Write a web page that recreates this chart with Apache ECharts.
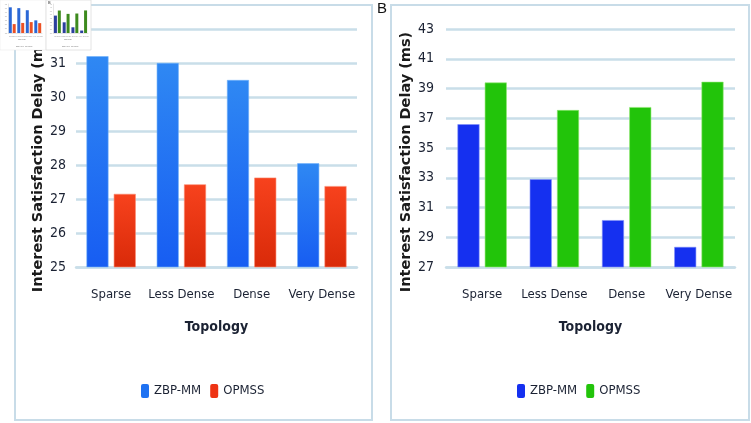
<!DOCTYPE html>
<html>
<head>
<meta charset="utf-8">
<script src="https://cdn.jsdelivr.net/npm/echarts@6/dist/echarts.min.js"></script>
<style>
  html, body { margin: 0; padding: 0; background: #fff; }
  #main { width: 751px; height: 423px; }
</style>
</head>
<body>
<div id="main"></div>
<script>
// topology categories, shared by both panels
const categories = ['Sparse', 'Less Dense', 'Dense', 'Very Dense'];

// panel A values (ms)
const zbpA = [31.2, 31.0, 30.5, 28.05];
const opmssA = [27.15, 27.43, 27.63, 27.38];

// panel B values (ms)
const zbpB = [36.6, 32.9, 30.15, 28.35];
const opmssB = [39.4, 37.55, 37.75, 39.45];

// y axis ranges
const axisA = { min: 25, max: 32, interval: 1 };
const axisB = { min: 27, max: 43, interval: 2 };

const chart = echarts.init(document.getElementById('main'), null, { renderer: 'canvas' });

const labelFont = "'DejaVu Sans Condensed', 'Liberation Sans Narrow', sans-serif";
const textColor = '#1b2233';
const gridColor = '#c9dee9';

function grad(top, bottom) {
  return new echarts.graphic.LinearGradient(0, 0, 0, 1, [
    { offset: 0, color: top },
    { offset: 1, color: bottom }
  ]);
}

// main axes builder
function xAxisMain(gridIndex) {
  return {
    type: 'category',
    gridIndex: gridIndex,
    data: categories,
    axisLine: { lineStyle: { color: gridColor, width: 2.5 } },
    axisTick: { show: false },
    axisLabel: { interval: 0, color: textColor, fontFamily: labelFont, fontSize: 13, margin: 21 },
    name: 'Topology',
    nameLocation: 'middle',
    nameGap: 53,
    nameTextStyle: { color: textColor, fontFamily: labelFont, fontSize: 14, fontWeight: 'bold' }
  };
}

function yAxisMain(gridIndex, range, gap, margin) {
  return {
    type: 'value',
    gridIndex: gridIndex,
    min: range.min,
    max: range.max,
    interval: range.interval,
    axisLine: { show: false },
    axisTick: { show: false },
    splitLine: { lineStyle: { color: gridColor, width: 2.5 } },
    axisLabel: { color: textColor, fontFamily: labelFont, fontSize: 14, margin: margin },
    name: 'Interest Satisfaction Delay (ms)',
    nameLocation: 'middle',
    nameGap: gap,
    nameTextStyle: {
      color: '#1a1a1a', fontFamily: 'DejaVu Sans', fontSize: 14.5, fontWeight: 'bold',
      padding: [0, 28, 0, 0]
    }
  };
}

// tiny thumbnail axes (inset in the corner)
function xAxisMini(gridIndex) {
  return {
    type: 'category', gridIndex: gridIndex, data: categories,
    axisLine: { lineStyle: { color: '#cccccc', width: 0.5 } },
    axisTick: { show: false },
    axisLabel: { interval: 0, fontSize: 2, color: '#999', margin: 2 },
    z: 20
  };
}
function yAxisMini(gridIndex, range) {
  return {
    type: 'value', gridIndex: gridIndex, min: range.min, max: range.max, interval: range.interval,
    axisLine: { show: true, lineStyle: { color: '#cccccc', width: 0.5 } },
    axisTick: { show: false },
    splitLine: { show: false },
    axisLabel: { fontSize: 2, color: '#aaa', margin: 1 },
    z: 20
  };
}

const option = {
  backgroundColor: '#ffffff',
  animation: false,
  graphic: [
    { type: 'rect', shape: { x: 15, y: 5, width: 357, height: 415 },
      style: { fill: 'none', stroke: '#c8dce8', lineWidth: 2 }, z: -1 },
    { type: 'rect', shape: { x: 391, y: 5, width: 358, height: 415 },
      style: { fill: 'none', stroke: '#c8dce8', lineWidth: 2 }, z: -1 },
    { type: 'text', left: 377, top: 1,
      style: { text: 'B', font: '15px "Liberation Sans", Arial, sans-serif', fill: '#111' } },
    // inset thumbnail background
    { type: 'rect', shape: { x: 0, y: 0, width: 46, height: 50 },
      style: { fill: '#ffffff', stroke: '#e6e6e6', lineWidth: 0.5 }, z: 10 },
    { type: 'rect', shape: { x: 46, y: 0, width: 45, height: 50 },
      style: { fill: '#ffffff', stroke: '#dddddd', lineWidth: 0.8 }, z: 10 },
    { type: 'text', left: 48, top: 1, z: 30,
      style: { text: 'B', font: '4px sans-serif', fill: '#333' } },
    { type: 'text', left: 18, top: 38, z: 30,
      style: { text: 'Topology', font: '2px sans-serif', fill: '#777' } },
    { type: 'text', left: 64, top: 38, z: 30,
      style: { text: 'Topology', font: '2px sans-serif', fill: '#777' } },
    { type: 'text', left: 16, top: 45, z: 30,
      style: { text: 'ZBP-MM  OPMSS', font: '2px sans-serif', fill: '#777' } },
    { type: 'text', left: 62, top: 45, z: 30,
      style: { text: 'ZBP-MM  OPMSS', font: '2px sans-serif', fill: '#777' } }
  ],
  grid: [
    { left: 76, right: 394, top: 29, bottom: 156 },
    { left: 446, right: 16, top: 29, bottom: 156 },
    { left: 8, top: 4, width: 34, height: 29, z: 20 },
    { left: 53, top: 4, width: 35, height: 29, z: 20 }
  ],
  legend: [
    {
      left: 136, top: 379, itemWidth: 8, itemHeight: 14, itemGap: 9,
      textStyle: { color: textColor, fontFamily: labelFont, fontSize: 13 },
      data: [
        { name: 'ZBP-MM', itemStyle: { color: '#1f72f2', borderWidth: 0 } },
        { name: 'OPMSS', itemStyle: { color: '#ee3314', borderWidth: 0 } }
      ]
    },
    {
      left: 512, top: 379, itemWidth: 8, itemHeight: 14, itemGap: 9,
      textStyle: { color: textColor, fontFamily: labelFont, fontSize: 13 },
      data: [
        { name: 'ZBP-MM', itemStyle: { color: '#1530f0', borderWidth: 0 } },
        { name: 'OPMSS', itemStyle: { color: '#22c40a', borderWidth: 0 } }
      ]
    }
  ],
  xAxis: [xAxisMain(0), xAxisMain(1), xAxisMini(2), xAxisMini(3)],
  yAxis: [yAxisMain(0, axisA, 26, 10), yAxisMain(1, axisB, 16, 12), yAxisMini(2, axisA), yAxisMini(3, axisB)],
  series: [
    {
      name: 'ZBP-MM', type: 'bar', xAxisIndex: 0, yAxisIndex: 0, data: zbpA,
      barWidth: 22, barGap: '24%',
      itemStyle: { color: grad('#2f88f3', '#175df2'), borderColor: '#6fb0fa', borderWidth: 0.6 }
    },
    {
      name: 'OPMSS', type: 'bar', xAxisIndex: 0, yAxisIndex: 0, data: opmssA,
      barWidth: 22, barGap: '24%',
      itemStyle: { color: grad('#f7421d', '#d92a09'), borderColor: '#fb8a6e', borderWidth: 0.6 }
    },
    {
      name: 'ZBP-MM', type: 'bar', xAxisIndex: 1, yAxisIndex: 1, data: zbpB,
      barWidth: 22, barGap: '24%',
      itemStyle: { color: '#1530f0', borderColor: '#7f8ff8', borderWidth: 0.6 }
    },
    {
      name: 'OPMSS', type: 'bar', xAxisIndex: 1, yAxisIndex: 1, data: opmssB,
      barWidth: 22, barGap: '24%',
      itemStyle: { color: '#22c40a', borderColor: '#8fe870', borderWidth: 0.6 }
    },
    // inset thumbnail bars
    { name: 'mini-a-zbp', type: 'bar', xAxisIndex: 2, yAxisIndex: 2, data: zbpA,
      barWidth: 3, barGap: '30%', z: 25, itemStyle: { color: '#2b68d6' } },
    { name: 'mini-a-opmss', type: 'bar', xAxisIndex: 2, yAxisIndex: 2, data: opmssA,
      barWidth: 3, barGap: '30%', z: 25, itemStyle: { color: '#ec5124' } },
    { name: 'mini-b-zbp', type: 'bar', xAxisIndex: 3, yAxisIndex: 3, data: zbpB,
      barWidth: 3, barGap: '30%', z: 25, itemStyle: { color: '#2b3f9e' } },
    { name: 'mini-b-opmss', type: 'bar', xAxisIndex: 3, yAxisIndex: 3, data: opmssB,
      barWidth: 3, barGap: '30%', z: 25, itemStyle: { color: '#3d8a1e' } }
  ]
};

chart.setOption(option);
</script>
</body>
</html>
